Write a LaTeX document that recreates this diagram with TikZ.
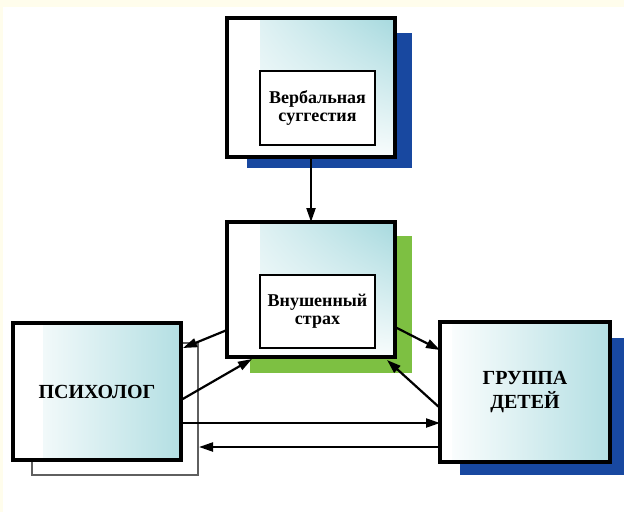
\documentclass[tikz,border=0pt]{standalone}
\usepackage{fontspec}
\setmainfont{Liberation Serif}
\usetikzlibrary{arrows.meta,calc,shadings}
\definecolor{paleyellow}{RGB}{255,253,236}
\definecolor{aqua}{RGB}{166,217,222}
\definecolor{shadowblue}{RGB}{24,72,160}
\definecolor{shadowgreen}{RGB}{125,192,66}
\definecolor{framegray}{RGB}{95,95,95}
\begin{document}
\begin{tikzpicture}[x=1pt,y=-1pt,
  corner/.style={anchor=north west, inner sep=0pt, outer sep=0pt},
  shadowbox/.style={corner, draw=none},
  mainbox/.style={corner, draw=black, line width=3.8pt, fill=white},
  fadebox/.style={mainbox,
    path picture={\shade[upper left=aqua!22, upper right=aqua, lower left=white, lower right=aqua!8]
      ($(path picture bounding box.north west)+(33,0)$) rectangle (path picture bounding box.south east);}},
  sidebox/.style={mainbox, align=center, font=\fontsize{20}{24}\selectfont\bfseries,
    path picture={\shade[left color=white, right color=aqua!85]
      ($(path picture bounding box.north west)+(#1,0)$) rectangle (path picture bounding box.south east);}},
  innerbox/.style={corner, draw=black, line width=2pt, fill=white, align=center,
    font=\fontsize{18}{18}\selectfont\bfseries},
  backframe/.style={corner, draw=framegray, line width=1.3pt, fill=white},
  link/.style={line width=2.2pt, -{Triangle[length=14pt,width=9pt]}}
]
% page and its pale border strips
\fill[white] (0,0) rectangle (624,512);
\fill[paleyellow] (0,0) rectangle (624,7);
\fill[paleyellow] (0,0) rectangle (3,512);

% drop shadows
\node[shadowbox, fill=shadowblue, minimum width=165pt, minimum height=135pt] (verbshadow) at (247,33) {};
\node[shadowbox, fill=shadowgreen, minimum width=162pt, minimum height=137pt] (fearshadow) at (250,236) {};
\node[shadowbox, fill=shadowblue, minimum width=164pt, minimum height=137pt] (groupshadow) at (460,338) {};
\node[backframe, minimum width=166pt, minimum height=132pt] (psyback) at (32,343) {};

% upper box: verbal suggestion
\node[fadebox, minimum width=168pt, minimum height=139pt] (verb) at (227,18) {};
\node[innerbox, minimum width=115pt, minimum height=74pt] (verbtext) at (260,71)
  {Вербальная\\суггестия};

% middle box: induced fear
\node[fadebox, minimum width=168pt, minimum height=135pt] (fear) at (227,222) {};
\node[innerbox, minimum width=115pt, minimum height=73pt] (feartext) at (260,275)
  {Внушенный\\страх};

% psychologist and children group
\node[sidebox=30, minimum width=168pt, minimum height=137pt] (psy) at (13,323) {ПСИХОЛОГ};
\node[sidebox=12, minimum width=170pt, minimum height=140pt] (group) at (440,322) {ГРУППА\\ДЕТЕЙ};

% connectors
\draw[link] (verb.south) -- (fear.north);
\draw[link] ($(fear.north west)+(0,108)$) -- ($(psy.north east)+(2,25)$);
\draw[link] ($(psy.north east)+(0,77)$) -- ($(fear.south west)+(25,2)$);
\draw[link] ($(fear.north east)+(0,105)$) -- ($(group.north west)+(0,28)$);
\draw[link] ($(group.north west)+(0,86)$) -- ($(fear.south east)+(-8,3)$);
\draw[link] ($(psy.north east)+(0,100)$) -- ($(group.north west)+(0,101)$);
\draw[link] ($(group.north west)+(0,125)$) -- ($(psyback.north east)+(1,104)$);
\end{tikzpicture}
\end{document}
